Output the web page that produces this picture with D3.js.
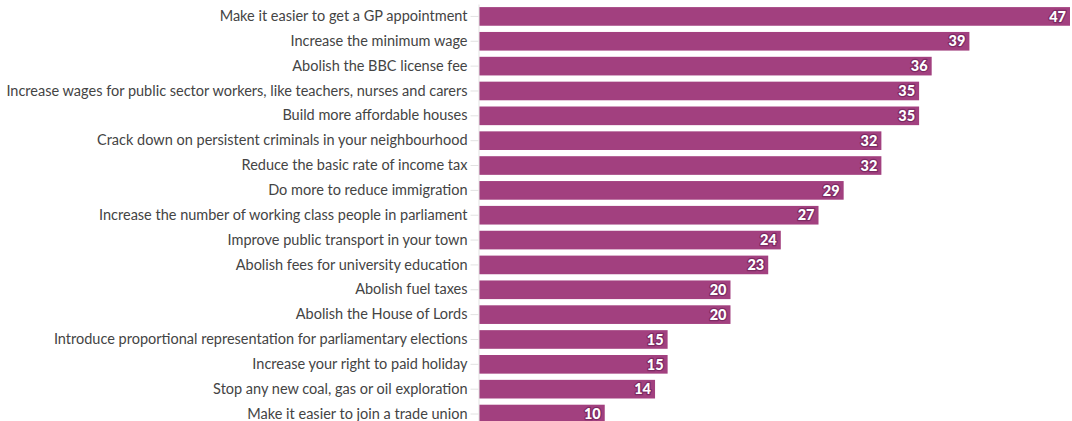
<!DOCTYPE html>
<html>
<head>
<meta charset="utf-8">
<script src="https://cdn.jsdelivr.net/npm/d3@7.9.0/dist/d3.min.js"></script>
<style>
  body { margin: 0; background: #fff; }
  svg { display: block; font-family: Lato, sans-serif; }
  .axis text { fill: #444; font-size: 14.5px; font-family: Lato, sans-serif; }
  .axis line, .axis path { stroke: #e2e2e2; }
  .value { fill: #fff; font-size: 14.5px; font-weight: 900; font-family: Lato, sans-serif; paint-order: stroke; stroke: #7d2a63; stroke-width: 2.5px; stroke-linejoin: round; }
</style>
</head>
<body>
<div id="chart"></div>
<script>
// Chart data
const policies = [
  'Make it easier to get a GP appointment',
  'Increase the minimum wage',
  'Abolish the BBC license fee',
  'Increase wages for public sector workers, like teachers, nurses and carers',
  'Build more affordable houses',
  'Crack down on persistent criminals in your neighbourhood',
  'Reduce the basic rate of income tax',
  'Do more to reduce immigration',
  'Increase the number of working class people in parliament',
  'Improve public transport in your town',
  'Abolish fees for university education',
  'Abolish fuel taxes',
  'Abolish the House of Lords',
  'Introduce proportional representation for parliamentary elections',
  'Increase your right to paid holiday',
  'Stop any new coal, gas or oil exploration',
  'Make it easier to join a trade union',
];
const support = [47, 39, 36, 35, 35, 32, 32, 29, 27, 24, 23, 20, 20, 15, 15, 14, 10];

const width = 1072;
const height = 421;
const left = 479;

const data = policies.map((p, i) => ({ policy: p, value: support[i] }));

const svg = d3.select('#chart')
  .append('svg')
  .attr('width', width)
  .attr('height', height);

const x = d3.scaleLinear().domain([0, 47]).range([left, 1070]);

const y = d3.scaleBand()
  .domain(policies)
  .range([4, 4 + 24.85 * policies.length])
  .paddingInner(0.25)
  .paddingOuter(0.125);

// Bars
svg.append('g')
  .selectAll('rect')
  .data(data)
  .join('rect')
  .attr('x', x(0))
  .attr('y', (d) => y(d.policy))
  .attr('width', (d) => x(d.value) - x(0))
  .attr('height', y.bandwidth())
  .attr('fill', '#a2407f');

// Category axis
const yAxis = svg.append('g')
  .attr('class', 'axis')
  .attr('transform', `translate(${left - 0.5},0)`)
  .call(d3.axisLeft(y).tickSize(8).tickPadding(3).tickSizeOuter(0))
  .attr('font-family', null)
  .attr('font-size', null);
yAxis.select('.domain').attr('stroke', '#e6e6e6');

// Value labels
svg.append('g')
  .selectAll('text')
  .data(data)
  .join('text')
  .attr('class', 'value')
  .attr('x', (d) => x(d.value) - 4)
  .attr('y', (d) => y(d.policy) + y.bandwidth() / 2)
  .attr('dy', '0.36em')
  .attr('text-anchor', 'end')
  .text((d) => d.value);
</script>
</body>
</html>
